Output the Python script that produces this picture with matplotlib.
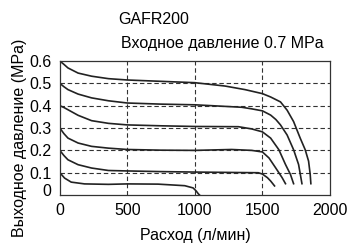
import matplotlib
matplotlib.use('Agg')
import matplotlib.pyplot as plt
import matplotlib.transforms as mtransforms

plt.rcParams['font.family'] = ['Liberation Sans', 'DejaVu Sans']

# Flow characteristic curves (flow l/min, outlet pressure MPa)
flow_06 = [0, 30, 60, 135, 235, 360, 500, 750, 1000, 1223, 1371, 1500, 1561, 1634, 1683, 1731, 1780, 1817, 1842, 1854, 1859]
pres_06 = [0.6, 0.585, 0.569, 0.546, 0.532, 0.521, 0.515, 0.509, 0.503, 0.488, 0.472, 0.454, 0.439, 0.417, 0.38, 0.329, 0.255, 0.203, 0.152, 0.093, 0.051]

flow_05 = [0, 30, 60, 135, 235, 360, 500, 750, 1000, 1347, 1420, 1500, 1561, 1600, 1634, 1683, 1731, 1768, 1793]
pres_05 = [0.5, 0.485, 0.472, 0.452, 0.435, 0.422, 0.412, 0.407, 0.404, 0.393, 0.386, 0.377, 0.358, 0.338, 0.314, 0.269, 0.203, 0.137, 0.051]

flow_04 = [0, 30, 60, 135, 235, 360, 500, 750, 1000, 1322, 1421, 1500, 1561, 1622, 1671, 1708, 1731]
pres_04 = [0.4, 0.392, 0.382, 0.357, 0.333, 0.321, 0.314, 0.31, 0.307, 0.306, 0.296, 0.283, 0.255, 0.203, 0.137, 0.092, 0.051]

flow_03 = [0, 30, 60, 135, 235, 360, 500, 750, 1000, 1272, 1421, 1500, 1549, 1598, 1646, 1671]
pres_03 = [0.3, 0.275, 0.255, 0.233, 0.218, 0.21, 0.204, 0.201, 0.2, 0.204, 0.2, 0.193, 0.166, 0.122, 0.078, 0.051]

flow_02 = [0, 30, 60, 135, 235, 360, 500, 750, 1000, 1470, 1500, 1537, 1561, 1590]
pres_02 = [0.2, 0.177, 0.158, 0.136, 0.121, 0.11, 0.108, 0.105, 0.103, 0.1, 0.094, 0.078, 0.063, 0.041]

flow_01 = [0, 35, 84, 183, 360, 500, 727, 925, 987, 1010, 1025, 1035]
pres_01 = [0.1, 0.076, 0.058, 0.05, 0.048, 0.05, 0.049, 0.042, 0.032, 0.018, 0.006, 0.0]

curves = [(flow_06, pres_06), (flow_05, pres_05), (flow_04, pres_04),
          (flow_03, pres_03), (flow_02, pres_02), (flow_01, pres_01)]

x_ticks = [0, 500, 1000, 1500, 2000]
y_ticks = [0, 0.1, 0.2, 0.3, 0.4, 0.5, 0.6]
y_tick_labels = ['0', '0.1', '0.2', '0.3', '0.4', '0.5', '0.6']
x_grid = [500, 1000, 1500]
y_grid = [0.1, 0.2, 0.3, 0.4, 0.5]

fig = plt.figure(figsize=(3.48, 2.46), dpi=100)
ax = fig.add_axes([0.172, 0.207, 0.776, 0.545])

# Dashed grid
for gx in x_grid:
    ax.axvline(gx, color='#333333', linestyle=(0, (4, 2.5)), linewidth=0.8, zorder=1)
for gy in y_grid:
    ax.axhline(gy, color='#333333', linestyle=(0, (4, 2.5)), linewidth=0.8, zorder=1)

for fx, py in curves:
    ax.plot(fx, py, color='#222222', linewidth=1.2, zorder=2)

ax.set_xlim(0, 2000)
ax.set_ylim(0, 0.6)
ax.set_xticks(x_ticks)
ax.set_yticks(y_ticks)
ax.set_yticklabels(y_tick_labels)
ax.tick_params(length=0, labelsize=11.5, pad=6)
for sp in ax.spines.values():
    sp.set_linewidth(0.9)
    sp.set_color('#333333')

# the "0" label sits a little above the axis in the original
lab0 = ax.get_yticklabels()[0]
lab0.set_transform(lab0.get_transform() +
                   mtransforms.ScaledTranslation(0, 5 / 100, fig.dpi_scale_trans))

ax.set_xlabel('Расход (л/мин)', fontsize=11.5, labelpad=7)
ax.set_ylabel('Выходное давление (MPa)', fontsize=11.5)
ax.yaxis.set_label_coords(-0.122, 0.43)

fig.text(0.339, 0.919, 'GAFR200', fontsize=11.5, va='center', ha='left')
fig.text(0.348, 0.825, 'Входное давление 0.7 MPa', fontsize=11.5, va='center', ha='left')

fig.savefig('out.png', dpi=100)
